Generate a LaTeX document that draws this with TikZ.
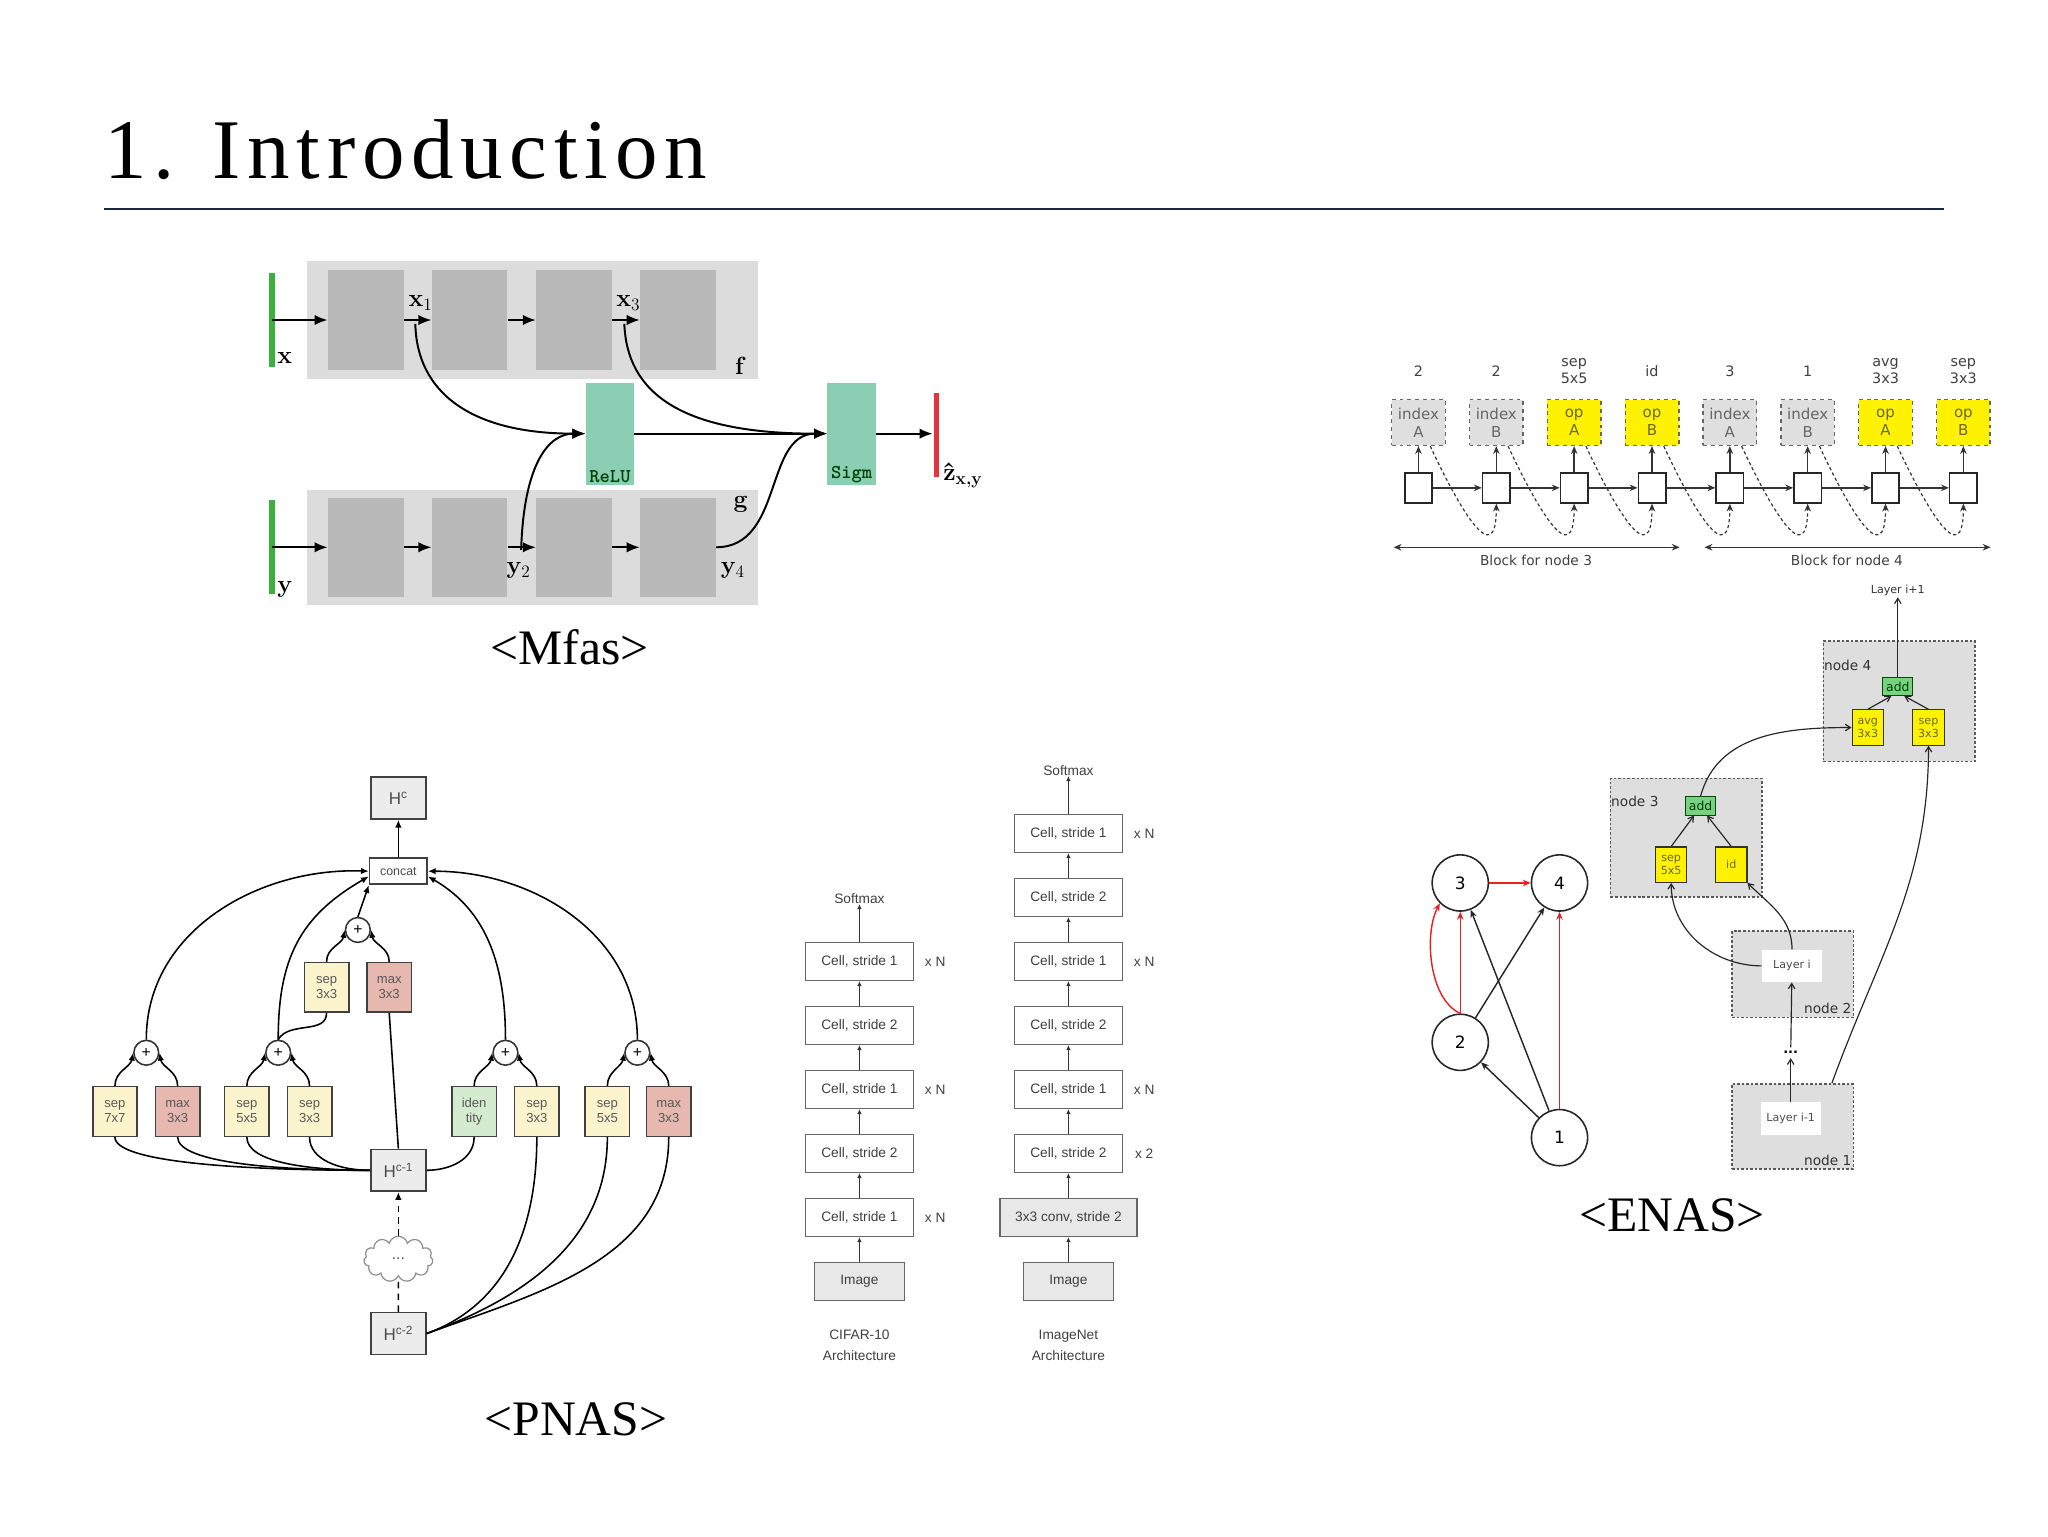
\documentclass[tikz,border=0pt]{standalone}
\usepackage{fontspec}
\setmainfont{Liberation Serif}
\newfontfamily\dvs{DejaVu Sans}
\newfontfamily\ars{Liberation Sans}
\newfontfamily\lmr{Latin Modern Roman}
\newfontfamily\ttlfont[LetterSpace=8]{Liberation Serif}
\usetikzlibrary{arrows.meta,shapes.symbols}
\definecolor{navy}{RGB}{30,38,64}
\definecolor{band}{RGB}{220,220,220}
\definecolor{blk}{RGB}{185,185,185}
\definecolor{teal1}{RGB}{138,206,180}
\definecolor{gbar}{RGB}{60,175,60}
\definecolor{rbar}{RGB}{230,50,60}
\definecolor{sepc}{RGB}{251,243,204}
\definecolor{maxc}{RGB}{230,184,176}
\definecolor{idc}{RGB}{212,235,207}
\definecolor{hgray}{RGB}{236,236,236}
\definecolor{yel}{RGB}{255,242,0}
\definecolor{ytxt}{RGB}{105,105,45}
\definecolor{addg}{RGB}{120,210,130}
\definecolor{ctnc}{RGB}{222,222,222}
\definecolor{redg}{RGB}{225,35,35}
\begin{document}
\begin{tikzpicture}[x=1pt,y=-1pt,
 mblk/.style={fill=blk, minimum width=58pt, minimum height=76pt, inner sep=0pt},
 act/.style={fill=teal1, minimum width=37pt, minimum height=78pt, inner sep=0pt},
 actl/.style={anchor=south, inner sep=1.5pt, font=\ttfamily\bfseries\fontsize{15}{16}\selectfont, text=green!25!black},
 mlab/.style={font=\lmr\bfseries\fontsize{19}{20}\selectfont, inner sep=0pt},
 marr/.style={-{Latex[length=10pt,width=8pt]}, line width=1.5pt},
 biglab/.style={font=\fontsize{38}{40}\selectfont, anchor=base, inner sep=0pt},
 pbox/.style={draw=black!75, line width=1.2pt, minimum width=34pt, minimum height=38pt, inner sep=0pt, align=center, font=\ars\fontsize{10}{11.5}\selectfont, text=black!65},
 hbox/.style={draw=black!75, line width=1.2pt, fill=hgray, minimum width=42pt, minimum height=32pt, inner sep=0pt, font=\ars\fontsize{13}{14}\selectfont, text=black!70},
 plus/.style={circle, draw=black!80, line width=1.2pt, fill=white, minimum size=19pt, inner sep=0pt, font=\ars\fontsize{12}{12}\selectfont},
 parr/.style={-{Latex[length=6pt,width=5pt]}, line width=1.2pt},
 pline/.style={line width=1.2pt},
 cell/.style={draw=black!60, line width=1pt, fill=white, minimum width=83pt, minimum height=29pt, inner sep=0pt, font=\ars\fontsize{10.5}{12}\selectfont, text=black!75},
 cellg/.style={cell, fill=gray!18},
 carr/.style={-{Latex[length=4pt,width=3.5pt]}, line width=1pt, black!80},
 atxt/.style={font=\ars\fontsize{10.5}{16}\selectfont, text=black!75, align=center, inner sep=0pt},
 ebox/.style={draw=black!60, dashed, line width=1.1pt, minimum width=41pt, minimum height=35pt, inner sep=0pt, align=center, font=\dvs\fontsize{11.5}{13.5}\selectfont, text=black!60},
 sq/.style={draw=black!85, line width=1.2pt, fill=white, minimum width=21pt, minimum height=23pt, inner sep=0pt},
 etop/.style={font=\dvs\fontsize{11}{13}\selectfont, text=black!75, align=center, inner sep=0pt},
 earr/.style={-{Stealth[length=6pt,width=5pt]}, line width=1.1pt, black!80},
 ctn/.style={draw=black!65, dash pattern=on 2pt off 1.5pt, line width=1.3pt, fill=ctnc, inner sep=0pt},
 ctnl/.style={inner sep=0pt, font=\dvs\fontsize{10.5}{12}\selectfont, text=black!80},
 addb/.style={draw=green!30!black, line width=0.8pt, fill=addg, minimum width=23pt, minimum height=14pt, inner sep=0pt, font=\dvs\fontsize{9.5}{10}\selectfont, text=green!25!black},
 yb/.style={draw=black!80, line width=0.9pt, fill=yel, minimum width=24pt, minimum height=27pt, inner sep=0pt, align=center, font=\dvs\fontsize{8.5}{10}\selectfont, text=ytxt},
 lay/.style={fill=white, minimum width=46pt, minimum height=25pt, inner sep=0pt, font=\dvs\fontsize{8.5}{10}\selectfont, text=black!70},
 tarr/.style={-{Straight Barb[length=4pt,width=5pt]}, line width=0.9pt, black!85},
 gnode/.style={circle, draw=black!85, line width=1.2pt, fill=white, minimum size=43pt, inner sep=0pt, font=\dvs\fontsize{13}{15}\selectfont},
 garr/.style={-{Stealth[length=6pt,width=5pt]}, line width=1.1pt, black!85},
 rarr/.style={-{Stealth[length=6pt,width=5pt]}, line width=1.1pt, redg}
]
\useasboundingbox (0,0) rectangle (1568,1176);
\fill[white] (0,0) rectangle (1568,1176);

% ---------- title ----------
\node[anchor=base west, inner sep=0pt, font=\ttlfont\fontsize{65}{70}\selectfont] (title) at (80,137) {1. Introduction};
\coordinate (tl1) at (80,160);
\coordinate (tl2) at (1488,160);
\draw[navy, line width=2pt] (tl1) -- (tl2);

% ---------- Mfas ----------
\fill[band] (235,200) rectangle (580,290);
\fill[band] (235,375) rectangle (580,463);
\node[mblk] (f1) at (280,245) {};
\node[mblk] (f2) at (359.5,245) {};
\node[mblk] (f3) at (439.5,245) {};
\node[mblk] (f4) at (519,245) {};
\node[mblk] (g1) at (280,419) {};
\node[mblk] (g2) at (359.5,419) {};
\node[mblk] (g3) at (439.5,419) {};
\node[mblk] (g4) at (519,419) {};
\draw[gbar, line width=4.5pt] (208,209) -- (208,281);
\draw[gbar, line width=4.5pt] (208,383) -- (208,455);
\coordinate (xin) at (208,245);
\coordinate (yin) at (208,419);
\draw[marr] (xin) -- (f1.west);
\draw[marr] (f1.east) -- (f2.west);
\draw[marr] (f2.east) -- (f3.west);
\draw[marr] (f3.east) -- (f4.west);
\draw[marr] (yin) -- (g1.west);
\draw[marr] (g1.east) -- (g2.west);
\draw[marr] (g2.east) -- (g3.west);
\draw[marr] (g3.east) -- (g4.west);
\node[act] (relu) at (467,332) {};
\node[actl] (relut) at (relu.south) {ReLU};
\node[act] (sigm) at (652,332) {};
\node[actl] (sigmt) at (sigm.south) {Sigm};
\draw[rbar, line width=3.5pt] (717,301) -- (717,365);
\coordinate (zout) at (714,332);
\coordinate (x1p) at (318,248);
\coordinate (x3p) at (478,248);
\coordinate (y2p) at (399,421);
\draw[marr] (x1p) .. controls (319,300) and (360,332) .. (relu.west);
\draw[marr] (y2p) .. controls (401,355) and (420,332) .. (relu.west);
\draw[marr] (x3p) .. controls (480,300) and (520,332) .. (sigm.west);
\draw[marr] (g4.east) .. controls (600,419) and (585,332) .. (sigm.west);
\draw[marr] (relu.east) -- (sigm.west);
\draw[marr] (sigm.east) -- (zout);
\node[mlab] (lx1) at (322,232) {x\textsubscript{\mdseries 1}};
\node[mlab] (lx3) at (481,232) {x\textsubscript{\mdseries 3}};
\node[mlab] (lx) at (218,274) {x};
\node[mlab] (ly) at (218,451) {y};
\node[mlab] (lf) at (566,280) {f};
\node[mlab] (lg) at (567,386) {g};
\node[mlab] (ly2) at (397,437) {y\textsubscript{\mdseries 2}};
\node[mlab] (ly4) at (561,437) {y\textsubscript{\mdseries 4}};
\node[mlab, anchor=west] (lz) at (722,364) {\^{z}\textsubscript{x,y}};
\node[biglab] (lmfas) at (436,509) {<Mfas>};

% ---------- PNAS cell ----------
\node[hbox] (hc) at (305,611) {H\textsuperscript{c}};
\node[draw=black!75, line width=1.2pt, fill=white, minimum width=44pt, minimum height=20pt, inner sep=0pt, font=\ars\fontsize{9.5}{10}\selectfont, text=black!70] (concat) at (305,667) {concat};
\node[plus] (pc) at (274,712) {+};
\node[pbox, fill=sepc] (st) at (250,756) {sep\\3x3};
\node[pbox, fill=maxc] (mt) at (298,756) {max\\3x3};
\node[plus] (pa) at (112,806) {+};
\node[plus] (pb) at (213,806) {+};
\node[plus] (pd) at (387,806) {+};
\node[plus] (pe) at (488,806) {+};
\node[pbox, fill=sepc] (b1) at (88,851) {sep\\7x7};
\node[pbox, fill=maxc] (b2) at (136,851) {max\\3x3};
\node[pbox, fill=sepc] (b3) at (189,851) {sep\\5x5};
\node[pbox, fill=sepc] (b4) at (237,851) {sep\\3x3};
\node[pbox, fill=idc] (b5) at (363,851) {iden\\tity};
\node[pbox, fill=sepc] (b6) at (411,851) {sep\\3x3};
\node[pbox, fill=sepc] (b7) at (465,851) {sep\\5x5};
\node[pbox, fill=maxc] (b8) at (512,851) {max\\3x3};
\node[hbox] (hc1) at (305,896) {H\textsuperscript{c-1}};
\node[cloud, draw=black!45, line width=0.9pt, cloud puffs=11, aspect=1.6, minimum width=53pt, minimum height=35pt, inner sep=0pt, font=\ars\fontsize{12}{12}\selectfont, text=black!70] (cld) at (305,964) {...};
\node[hbox] (hc2) at (305,1021) {H\textsuperscript{c-2}};

\draw[parr] (concat.north) -- (hc.south);
\draw[parr] (pa.north) to[out=90,in=178] (concat.west);
\draw[parr] (pb.north) to[out=90,in=-150,looseness=1.1] ([yshift=-4pt]concat.west);
\draw[parr] (pc.north) -- (concat.south west);
\draw[parr] (pd.north) to[out=90,in=-30] ([yshift=-4pt]concat.east);
\draw[parr] (pe.north) to[out=90,in=0] (concat.east);
\draw[parr] (b1.north) to[out=90,in=-100] (pa.west);
\draw[parr] (b2.north) to[out=90,in=-80] (pa.east);
\draw[parr] (b3.north) to[out=90,in=-100] (pb.west);
\draw[parr] (b4.north) to[out=90,in=-80] (pb.east);
\draw[parr] (b5.north) to[out=90,in=-100] (pd.west);
\draw[parr] (b6.north) to[out=90,in=-80] (pd.east);
\draw[parr] (b7.north) to[out=90,in=-100] (pe.west);
\draw[parr] (b8.north) to[out=90,in=-80] (pe.east);
\draw[parr] (st.north) to[out=90,in=-100] (pc.west);
\draw[parr] (mt.north) to[out=90,in=-80] (pc.east);
\draw[pline] (st.south) to[out=-90,in=60] (pb.north);
\draw[pline] (mt.south) -- (hc1.north);
\draw[pline] (b1.south) .. controls (88,890) and (186,896) .. (hc1.west);
\draw[pline] (b2.south) .. controls (136,890) and (210,896) .. (hc1.west);
\draw[pline] (b3.south) .. controls (189,890) and (236,896) .. (hc1.west);
\draw[pline] (b4.south) .. controls (237,888) and (260,896) .. (hc1.west);
\draw[pline] (b5.south) to[out=-90,in=0] (hc1.east);
\draw[pline] (b6.south) to[out=-90,in=20] (hc2.east);
\draw[pline] (b7.south) to[out=-90,in=20] (hc2.east);
\draw[pline] (b8.south) to[out=-90,in=20] (hc2.east);
\draw[pline, dash pattern=on 5pt off 4pt] (hc2.north) -- (cld.south);
\draw[parr, dash pattern=on 5pt off 4pt] (cld.north) -- (hc1.south);
\node[biglab] (lpnas) at (441,1099) {<PNAS>};

% ---------- PNAS architectures ----------
\node[atxt] (csm) at (658,688) {Softmax};
\foreach \n/\y/\s in {1/736/1,2/785/2,3/834/1,4/883/2,5/932/1}
  \node[cell] (cf\n) at (658,\y) {Cell, stride \s};
\node[cellg, minimum width=69pt] (cim) at (658,981) {Image};
\draw[carr] (cim) -- (cf5);
\draw[carr] (cf5) -- (cf4);
\draw[carr] (cf4) -- (cf3);
\draw[carr] (cf3) -- (cf2);
\draw[carr] (cf2) -- (cf1);
\draw[carr] (cf1) -- (csm);
\node[atxt] (cx1) at (716,736) {x N};
\node[atxt] (cx3) at (716,834) {x N};
\node[atxt] (cx5) at (716,932) {x N};
\node[atxt] (clab) at (658,1030) {CIFAR-10\\Architecture};

\node[atxt] (ism) at (818,590) {Softmax};
\foreach \n/\y/\s in {1/638/1,2/687/2,3/736/1,4/785/2,5/834/1,6/883/2}
  \node[cell] (im\n) at (818,\y) {Cell, stride \s};
\node[cellg, minimum width=105pt] (iconv) at (818,932) {3x3 conv, stride 2};
\node[cellg, minimum width=69pt] (iim) at (818,981) {Image};
\draw[carr] (iim) -- (iconv);
\draw[carr] (iconv) -- (im6);
\draw[carr] (im6) -- (im5);
\draw[carr] (im5) -- (im4);
\draw[carr] (im4) -- (im3);
\draw[carr] (im3) -- (im2);
\draw[carr] (im2) -- (im1);
\draw[carr] (im1) -- (ism);
\node[atxt] (ix1) at (876,638) {x N};
\node[atxt] (ix3) at (876,736) {x N};
\node[atxt] (ix5) at (876,834) {x N};
\node[atxt] (ix6) at (876,883) {x 2};
\node[atxt] (ilab) at (818,1030) {ImageNet\\Architecture};

% ---------- ENAS top ----------
\foreach \i/\eTop/\eLab/\eFill/\eTxt in {0/2/{index\\A}/gray!25/black!60, 1/2/{index\\B}/gray!25/black!60, 2/{sep\\5x5}/{op\\A}/yel/ytxt, 3/id/{op\\B}/yel/ytxt, 4/3/{index\\A}/gray!25/black!60, 5/1/{index\\B}/gray!25/black!60, 6/{avg\\3x3}/{op\\A}/yel/ytxt, 7/{sep\\3x3}/{op\\B}/yel/ytxt}
{
  \pgfmathsetmacro{\xx}{1086+59.6*\i}
  \node[etop] (tp\i) at (\xx,284) {\eTop};
  \node[ebox, fill=\eFill, text=\eTxt] (bx\i) at (\xx,323.5) {\eLab};
  \node[sq] (sq\i) at (\xx,373.5) {};
  \draw[earr] (sq\i) -- (bx\i);
}
\foreach \i [evaluate=\i as \j using int(\i+1)] in {0,...,6}
{
  \draw[earr] (sq\i) -- (sq\j);
  \draw[earr, dash pattern=on 2.5pt off 2pt, line width=0.9pt] ([xshift=9pt]bx\i.south) to[out=-65,in=-90,looseness=2] (sq\j.south);
}
\coordinate (bl3a) at (1067,419);
\coordinate (bl3b) at (1286,419);
\coordinate (bl4a) at (1305,419);
\coordinate (bl4b) at (1524,419);
\draw[{Stealth[length=6pt,width=5pt]}-{Stealth[length=6pt,width=5pt]}, line width=1.1pt, black!80] (bl3a) -- (bl3b);
\draw[{Stealth[length=6pt,width=5pt]}-{Stealth[length=6pt,width=5pt]}, line width=1.1pt, black!80] (bl4a) -- (bl4b);
\node[etop, font=\dvs\fontsize{10.5}{12}\selectfont] (bl3t) at (1176,429) {Block for node 3};
\node[etop, font=\dvs\fontsize{10.5}{12}\selectfont] (bl4t) at (1414,429) {Block for node 4};

% ---------- ENAS graph ----------
\node[gnode] (n3) at (1118,676) {3};
\node[gnode] (n4) at (1194,676) {4};
\node[gnode] (n2) at (1118,798) {2};
\node[gnode] (n1) at (1194,871) {1};
\draw[rarr] (n3) -- (n4);
\draw[rarr] (n2) -- (n3);
\draw[rarr] (n2.north) .. controls (1094,765) and (1090,715) .. (n3.south west);
\draw[rarr] (n1) -- (n4);
\draw[garr] (n1) -- (n2);
\draw[garr] (n1) -- (n3);
\draw[garr] (n2) -- (n4);

% ---------- ENAS cell ----------
\node[ctn, minimum width=116pt, minimum height=92pt] (ct4) at (1454,537) {};
\node[ctn, minimum width=116pt, minimum height=91pt] (ct3) at (1291,641.5) {};
\node[ctn, minimum width=93pt, minimum height=66pt] (ct2) at (1372.5,746) {};
\node[ctn, minimum width=93pt, minimum height=65pt] (ct1) at (1372.5,862.5) {};
\node[ctnl, anchor=west] (ct4l) at ([xshift=1pt,yshift=-19pt]ct4.north west) {node 4};
\node[ctnl, anchor=west] (ct3l) at ([xshift=1pt,yshift=-18pt]ct3.north west) {node 3};
\node[ctnl, anchor=east] (ct2l) at ([xshift=-2pt,yshift=8pt]ct2.south east) {node 2};
\node[ctnl, anchor=east] (ct1l) at ([xshift=-2pt,yshift=7pt]ct1.south east) {node 1};
\node[addb] (ad4) at (1453,525.5) {add};
\node[yb] (av) at (1430,557) {avg\\3x3};
\node[yb] (sp3) at (1476.5,557) {sep\\3x3};
\node[addb] (ad3) at (1302,617) {add};
\node[yb] (sp5) at (1279.5,662) {sep\\5x5};
\node[yb] (idn) at (1325.5,662) {id};
\node[lay] (li) at (1372,739.5) {Layer i};
\node[lay] (lim) at (1371,856.5) {Layer i-1};
\node[font=\dvs\bfseries\fontsize{10}{12}\selectfont, inner sep=3pt] (dots) at (1371,806) {...};
\node[font=\dvs\fontsize{8.5}{10}\selectfont, text=black!80, inner sep=1pt] (lip) at (1453,452) {Layer i+1};
\draw[tarr] (ad4) -- (lip);
\draw[tarr] (av.north) -- ([xshift=-5pt]ad4.south);
\draw[tarr] (sp3.north) -- ([xshift=5pt]ad4.south);
\draw[tarr] (sp5.north) -- ([xshift=-5pt]ad3.south);
\draw[tarr] (idn.north) -- ([xshift=5pt]ad3.south);
\draw[tarr] (ad3.north) to[out=75,in=180] (av.west);
\draw[tarr] (li.west) to[out=180,in=-90] (sp5.south);
\draw[tarr] (li.north) to[out=90,in=-45] (idn.south east);
\draw[tarr] (lim) -- (dots);
\draw[tarr] (dots) -- (li);
\draw[tarr] ([xshift=30pt]ct1.north) to[out=70,in=-90] (sp3.south);
\node[biglab] (lenas) at (1280,943) {<ENAS>};
\end{tikzpicture}
\end{document}
